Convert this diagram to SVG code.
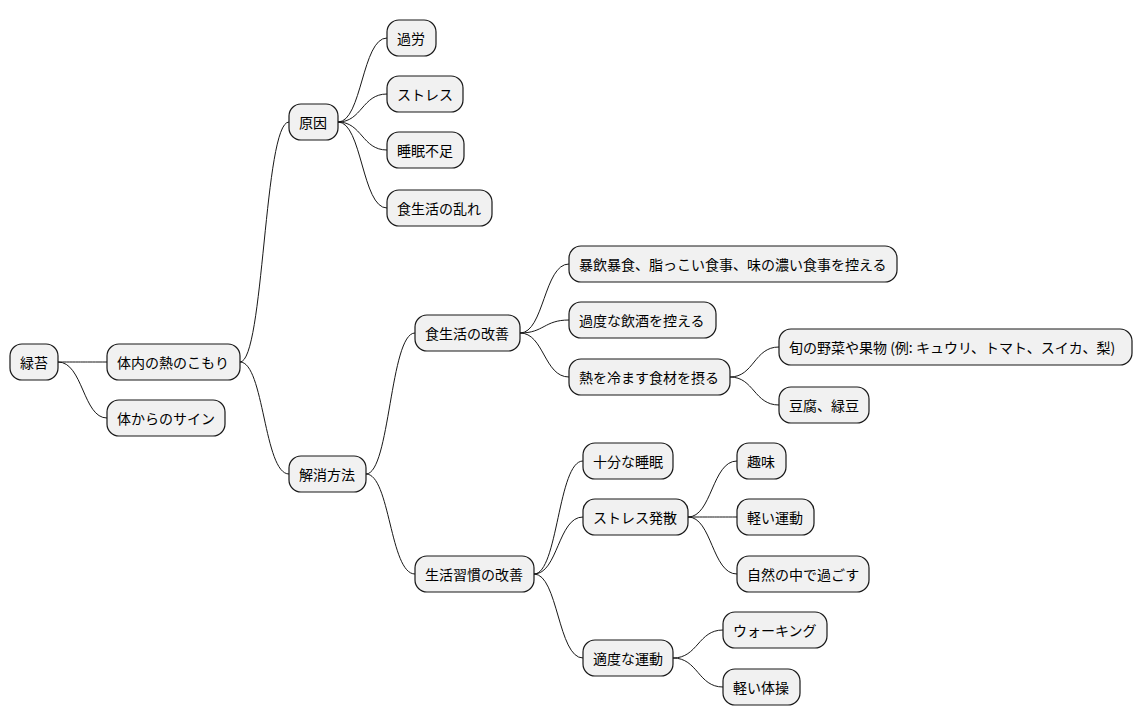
<svg xmlns="http://www.w3.org/2000/svg" width="1143" height="724" viewBox="0 0 1143 724">
<style>
rect{fill:#F1F1F1;stroke:#181818;stroke-width:1.2}
text{font-family:"Noto Sans CJK JP","Liberation Sans",sans-serif;font-size:14px;fill:#000;dominant-baseline:central}
.c path{fill:none;stroke:#181818;stroke-width:1}
</style>
<rect width="1143" height="724" style="fill:#fff;stroke:none"/>
<g class="c">
<path d="M58 362 C83 362 83 362 107 362"/>
<path d="M58 362 C83 362 83 418 107 418"/>
<path d="M240 362 C264 362 264 122 289 122"/>
<path d="M240 362 C264 362 264 474 289 474"/>
<path d="M338 122 C362 122 362 38 387 38"/>
<path d="M338 122 C362 122 362 94 387 94"/>
<path d="M338 122 C362 122 362 150 387 150"/>
<path d="M338 122 C362 122 362 208 387 208"/>
<path d="M366 474 C390 474 390 333 415 333"/>
<path d="M366 474 C390 474 390 574 415 574"/>
<path d="M520 333 C544 333 544 264 569 264"/>
<path d="M520 333 C544 333 544 320 569 320"/>
<path d="M520 333 C544 333 544 377 569 377"/>
<path d="M730 377 C754 377 754 347 779 347"/>
<path d="M730 377 C754 377 754 405 779 405"/>
<path d="M534 574 C558 574 558 461 583 461"/>
<path d="M534 574 C558 574 558 517 583 517"/>
<path d="M534 574 C558 574 558 658 583 658"/>
<path d="M688 517 C712 517 712 461 737 461"/>
<path d="M688 517 C712 517 712 517 737 517"/>
<path d="M688 517 C712 517 712 574 737 574"/>
<path d="M673 658 C698 658 698 630 723 630"/>
<path d="M673 658 C698 658 698 687 723 687"/>
</g>
<g id="n1"><rect x="10" y="344" width="48" height="36" rx="12"/><text x="20" y="362">緑苔</text></g>
<g id="n2"><rect x="107" y="344" width="133" height="36" rx="12"/><text x="117" y="362">体内の熱のこもり</text></g>
<g id="n3"><rect x="107" y="400" width="118" height="36" rx="12"/><text x="117" y="418">体からのサイン</text></g>
<g id="n4"><rect x="289" y="104" width="49" height="36" rx="12"/><text x="299" y="122">原因</text></g>
<g id="n5"><rect x="387" y="20" width="49" height="36" rx="12"/><text x="397" y="38">過労</text></g>
<g id="n6"><rect x="387" y="76" width="76" height="36" rx="12"/><text x="397" y="94">ストレス</text></g>
<g id="n7"><rect x="387" y="132" width="77" height="36" rx="12"/><text x="397" y="150">睡眠不足</text></g>
<g id="n8"><rect x="387" y="190" width="105" height="36" rx="12"/><text x="397" y="208">食生活の乱れ</text></g>
<g id="n9"><rect x="289" y="456" width="77" height="36" rx="12"/><text x="299" y="474">解消方法</text></g>
<g id="n10"><rect x="415" y="315" width="105" height="36" rx="12"/><text x="425" y="333">食生活の改善</text></g>
<g id="n11"><rect x="569" y="246" width="328" height="36" rx="12"/><text x="579" y="264">暴飲暴食、脂っこい食事、味の濃い食事を控える</text></g>
<g id="n12"><rect x="569" y="302" width="147" height="36" rx="12"/><text x="579" y="320">過度な飲酒を控える</text></g>
<g id="n13"><rect x="569" y="359" width="161" height="36" rx="12"/><text x="579" y="377">熱を冷ます食材を摂る</text></g>
<g id="n14"><rect x="779" y="329" width="353" height="36" rx="12"/><text x="789" y="347">旬の野菜や果物 (例: キュウリ、トマト、スイカ、梨)</text></g>
<g id="n15"><rect x="779" y="387" width="90" height="36" rx="12"/><text x="789" y="405">豆腐、緑豆</text></g>
<g id="n16"><rect x="415" y="556" width="119" height="36" rx="12"/><text x="425" y="574">生活習慣の改善</text></g>
<g id="n17"><rect x="583" y="443" width="90" height="36" rx="12"/><text x="593" y="461">十分な睡眠</text></g>
<g id="n18"><rect x="583" y="499" width="105" height="36" rx="12"/><text x="593" y="517">ストレス発散</text></g>
<g id="n19"><rect x="737" y="443" width="49" height="36" rx="12"/><text x="747" y="461">趣味</text></g>
<g id="n20"><rect x="737" y="499" width="77" height="36" rx="12"/><text x="747" y="517">軽い運動</text></g>
<g id="n21"><rect x="737" y="556" width="132" height="36" rx="12"/><text x="747" y="574">自然の中で過ごす</text></g>
<g id="n22"><rect x="583" y="640" width="90" height="36" rx="12"/><text x="593" y="658">適度な運動</text></g>
<g id="n23"><rect x="723" y="612" width="104" height="36" rx="12"/><text x="733" y="630">ウォーキング</text></g>
<g id="n24"><rect x="723" y="669" width="77" height="36" rx="12"/><text x="733" y="687">軽い体操</text></g>
</svg>
